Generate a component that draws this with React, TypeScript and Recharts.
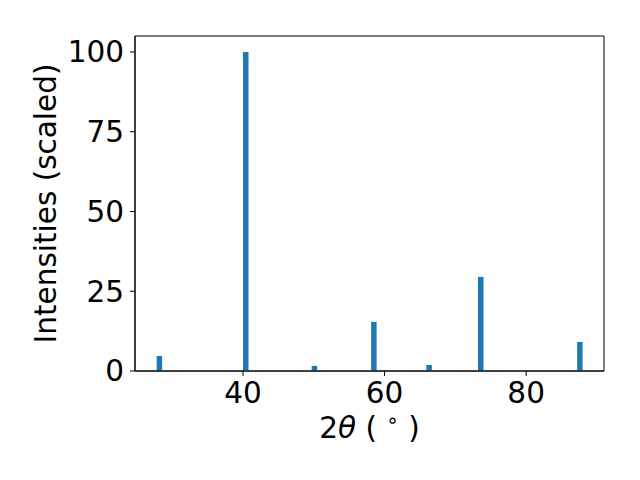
import React from "react";
import { ComposedChart, Bar, XAxis, YAxis, ReferenceArea } from "recharts";

const twoTheta = [28.2, 40.4, 50.1, 58.5, 66.3, 73.6, 87.6];
const intensity = [4.7, 100, 1.6, 15.4, 1.9, 29.5, 9.1];
const xTicks = [40, 60, 80];
const yTicks = [0, 25, 50, 75, 100];

const X_MIN = 24.74;
const X_MAX = 91.0;
const Y_MAX = 105;

const data = twoTheta.map((t, i) => ({ t, v: intensity[i] }));

const FONT = "DejaVu Sans";
const FS = 29.5;
const tickStyle = { fontFamily: FONT, fontSize: FS, fill: "#000" };

const XLabel = (props: any) => {
  const vb = props.viewBox || {};
  const cx = vb.x + vb.width / 2;
  return (
    <text x={cx} y={438} textAnchor="middle" fontFamily={FONT} fontSize={FS} fill="#000">
      <tspan>2</tspan>
      <tspan fontStyle="italic">θ</tspan>
      <tspan> ( </tspan>
      <tspan dy={-11} fontSize={20}>∘</tspan>
      <tspan dy={11}> )</tspan>
    </text>
  );
};

const YLabel = (props: any) => {
  const vb = props.viewBox || {};
  const cy = vb.y + vb.height / 2;
  return (
    <text
      x={56}
      y={cy}
      transform={`rotate(-90, 56, ${cy})`}
      textAnchor="middle"
      fontFamily={FONT}
      fontSize={FS}
      fill="#000"
    >
      Intensities (scaled)
    </text>
  );
};

export default function App() {
  return (
    <div style={{ position: "absolute", left: 0, top: 0, width: 640, height: 480, background: "#fff" }}>
      <ComposedChart width={640} height={480} data={data} margin={{ top: 36, right: 36, bottom: 0, left: 0 }}>
        <XAxis
          dataKey="t"
          type="number"
          domain={[X_MIN, X_MAX]}
          ticks={xTicks}
          allowDataOverflow
          height={109}
          tickSize={5}
          tickMargin={6}
          fontSize={FS}
          fontFamily={FONT}
          tick={tickStyle}
          stroke="#000"
          tickLine={{ stroke: "#000" }}
          axisLine={{ stroke: "#000" }}
          label={<XLabel />}
        />
        <YAxis
          type="number"
          domain={[0, Y_MAX]}
          ticks={yTicks}
          allowDataOverflow
          width={135}
          tickSize={5}
          tickMargin={6}
          fontSize={FS}
          fontFamily={FONT}
          tick={tickStyle}
          stroke="#000"
          tickLine={{ stroke: "#000" }}
          axisLine={{ stroke: "#000" }}
          label={<YLabel />}
        />
        <ReferenceArea
          x1={X_MIN}
          x2={X_MAX}
          y1={0}
          y2={Y_MAX}
          fill="none"
          fillOpacity={0}
          stroke="#000"
          strokeWidth={1}
          ifOverflow="visible"
        />
        <Bar dataKey="v" fill="#1f77b4" barSize={5.5} isAnimationActive={false} />
      </ComposedChart>
    </div>
  );
}
